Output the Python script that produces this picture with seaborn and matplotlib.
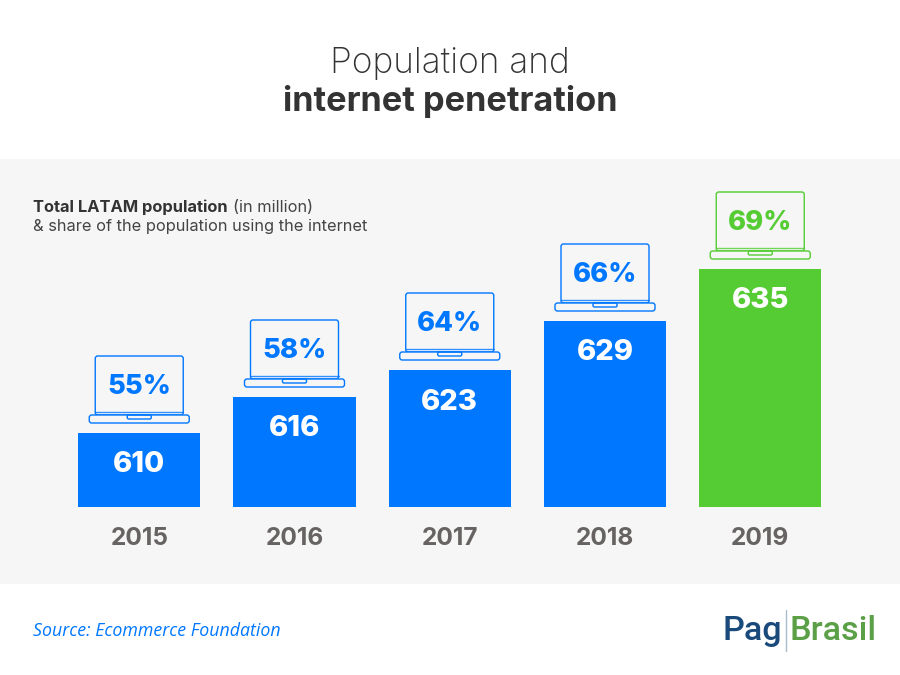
import matplotlib
matplotlib.use("Agg")
import matplotlib.pyplot as plt
from matplotlib.patches import FancyBboxPatch, Rectangle
import seaborn as sns

# values
years = ["2015", "2016", "2017", "2018", "2019"]
population = [610, 616, 623, 629, 635]
share = ["55%", "58%", "64%", "66%", "69%"]
# the bars in the original are not to scale with population, so this is their drawn length
bar_length = [74, 110, 137, 186, 238]

BLUE = "#0077ff"
GREEN = "#55cc33"
BAND = "#f6f6f6"
bar_colors = [BLUE, BLUE, BLUE, BLUE, GREEN]

sns.set_theme(style="white")
plt.rcParams["font.family"] = ["Inter", "DejaVu Sans"]

W, H = 900, 675
fig = plt.figure(figsize=(9, 6.75), dpi=100, facecolor="white")

# grey band behind the chart
fig.patches.append(Rectangle((0, 1 - 584 / H), 1, (584 - 159) / H, transform=fig.transFigure,
                             facecolor=BAND, edgecolor="none", zorder=-5))

ax = fig.add_axes([0, 1 - 507 / H, 1, (507 - 159) / H])
ax.patch.set_alpha(0)

sns.barplot(x=years, y=bar_length, hue=years, palette=bar_colors, legend=False,
            width=0.786, saturation=1, edgecolor="none", linewidth=0, ax=ax)

step = 155.25  # pixels per category
first = 139.25  # pixel centre of the first bar
ax.set_xlim(-first / step, (W - first) / step)
ax.set_ylim(0, 507 - 159)
ax.set_yticks([])
ax.set_ylabel("")
ax.tick_params(axis="x", length=0, pad=14.5)
for lab in ax.get_xticklabels():
    lab.set_fontsize(17.6)
    lab.set_fontweight("bold")
    lab.set_color("#666362")
sns.despine(ax=ax, left=True, bottom=True)


def rounded(x, y, w, h, r, color, fc="none", lw=1.0, z=3):
    box = FancyBboxPatch((x, y), w, h, boxstyle=f"round,pad=0,rounding_size={r / step}",
                         mutation_aspect=step, facecolor=fc, edgecolor=color, linewidth=lw, zorder=z)
    ax.add_patch(box)


# laptop icon above every bar, with the share on its screen
for i, top in enumerate(bar_length):
    c = bar_colors[i]
    rounded(i - 44 / step, top + 18, 88 / step, 59, 2.5, c)
    ax.plot([i - 44 / step, i + 44 / step], [top + 21, top + 21], color=c, lw=1.0, alpha=0.8, zorder=3)
    rounded(i - 50 / step, top + 10, 100 / step, 8, 2.5, c, fc=BAND, z=4)
    rounded(i - 12 / step, top + 14, 24 / step, 4, 1.5, c, z=5)
    ax.text(i, top + 46, share[i], color=c, fontsize=19.7, fontweight=800, ha="center", va="center")
    ax.text(i, top - 32, str(population[i]), color="white", fontsize=21, fontweight=800,
            ha="center", va="center")

# titles
fig.text(0.5, 1 - 63 / H, "Population and", fontsize=25.4, fontweight="light", color="#333333",
         ha="center", va="center")
fig.text(0.5, 1 - 101 / H, "internet penetration", fontsize=24.7, fontweight="bold", color="#333333",
         ha="center", va="center")

# note inside the band, bold part followed by the regular part
t1 = fig.text(33 / W, 1 - 207 / H, "Total LATAM population", fontsize=11.85, fontweight="bold",
              color="#333333", va="center")
fig.canvas.draw()
end = t1.get_window_extent().x1
fig.text((end + 5) / W, 1 - 207 / H, "(in million)", fontsize=11.8, color="#444444", va="center")
fig.text(33 / W, 1 - 227 / H, "& share of the population using the internet", fontsize=11.8,
         color="#444444", va="center")

fig.text(33 / W, 1 - 631 / H, "Source: Ecommerce Foundation", fontsize=12.8, style="italic",
         color=BLUE, va="center", family=["Open Sans", "DejaVu Sans"])

# logo as text
fig.text(782 / W, 1 - 640 / H, "Pag", fontsize=24.6, color="#1a4a7c", ha="right", va="baseline",
         family=["Roboto", "Open Sans"], fontweight="medium")
fig.text(790 / W, 1 - 640 / H, "Brasil", fontsize=24.6, color="#5ba047", ha="left", va="baseline",
         family=["Roboto", "Open Sans"], fontweight="medium")
fig.add_artist(plt.Line2D([786 / W, 786 / W], [1 - 651 / H, 1 - 610 / H], color="#a9bccb", lw=1))

fig.savefig("out.png", dpi=100)
